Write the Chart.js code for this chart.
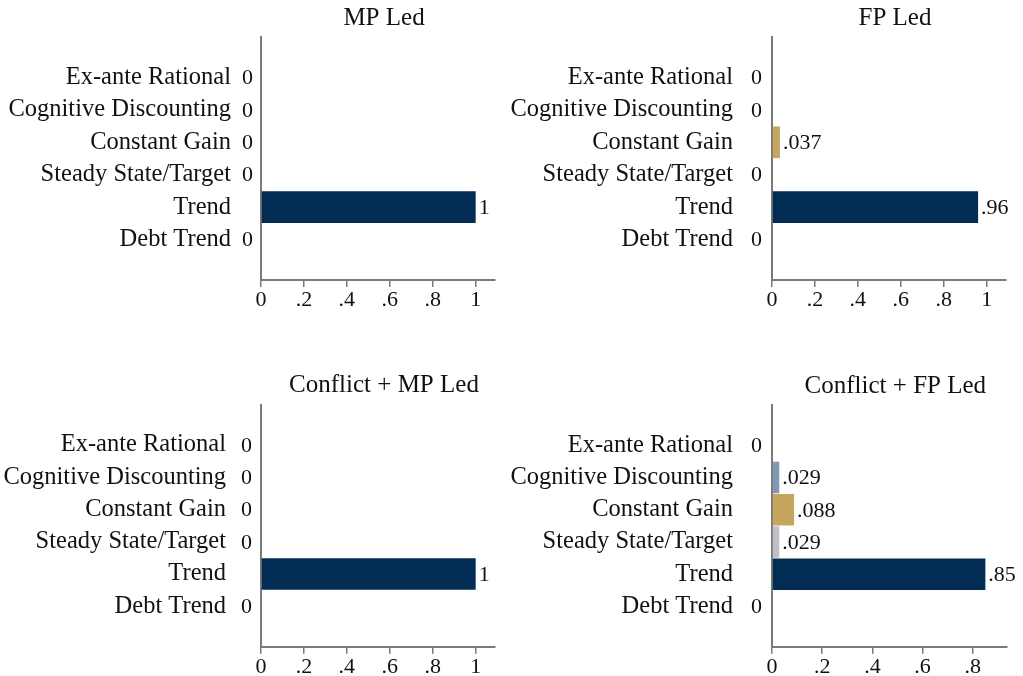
<!DOCTYPE html>
<html>
<head>
<meta charset="utf-8">
<title>Model selection shares</title>
<script src="https://cdn.jsdelivr.net/npm/chart.js@4/dist/chart.umd.min.js"></script>
<style>
  html, body { margin: 0; padding: 0; background: #fff; }
  #wrap { position: relative; width: 1023px; height: 676px; overflow: hidden; }
  .panel { position: absolute; }
  canvas { display: block; }
</style>
</head>
<body>
<div id="wrap">
  <div class="panel" style="left:0;top:0;"><canvas id="c0" width="511" height="338"></canvas></div>
  <div class="panel" style="left:511px;top:0;"><canvas id="c1" width="512" height="338"></canvas></div>
  <div class="panel" style="left:0;top:338px;"><canvas id="c2" width="511" height="338"></canvas></div>
  <div class="panel" style="left:511px;top:338px;"><canvas id="c3" width="512" height="338"></canvas></div>
</div>
<script>
// Expectation models (rows, top to bottom)
const categories = ['Ex-ante Rational', 'Cognitive Discounting', 'Constant Gain',
                    'Steady State/Target', 'Trend', 'Debt Trend'];

// Share of each model per regime
const mpLed         = [0, 0, 0,     0,     1,    0];
const fpLed         = [0, 0, 0.037, 0,     0.96, 0];
const conflictMpLed = [0, 0, 0,     0,     1,    0];
const conflictFpLed = [0, 0.029, 0.088, 0.029, 0.85, 0];

const panelTitles = ['MP Led', 'FP Led', 'Conflict + MP Led', 'Conflict + FP Led'];

// x-axis tick values
const ticksToOne    = [0, 0.2, 0.4, 0.6, 0.8, 1];
const ticksToPoint8 = [0, 0.2, 0.4, 0.6, 0.8];

// bar colours, one per model
const modelColors = ['#5b6f86', '#7f98b4', '#c5a65f', '#bfc0c5', '#022c54', '#8a7a55'];

const AXIS_GREY = '#7a7a7a';
const TEXT = '#111';
const SERIF = '"Liberation Serif", "Times New Roman", serif';

// drop the leading zero: 0.037 -> ".037"
function fmt(v) {
  if (v === 0) return '0';
  if (v === 1) return '1';
  return String(+v.toFixed(3)).replace(/^0\./, '.');
}

// panel title and the value beside each bar
const barNotes = {
  id: 'barNotes',
  afterDatasetsDraw(chart, args, opts) {
    const { ctx, chartArea } = chart;
    ctx.save();
    ctx.fillStyle = TEXT;
    ctx.textBaseline = 'middle';
    ctx.textAlign = 'center';
    ctx.font = '25px ' + SERIF;
    ctx.fillText(opts.title, (chartArea.left + chartArea.right) / 2 + 6, chartArea.top - 19);

    ctx.font = '22px ' + SERIF;
    const ds = chart.data.datasets[0];
    chart.getDatasetMeta(0).data.forEach((bar, i) => {
      const v = ds.data[i].x;
      if (v === 0) {
        ctx.textAlign = 'right';
        ctx.fillText(fmt(v), chartArea.left - opts.zeroGap, bar.y + 1);
      } else {
        ctx.textAlign = 'left';
        ctx.fillText(fmt(v), bar.x + 3, bar.y + 1);
      }
    });
    ctx.restore();
  }
};

function makePanel(canvasId, title, values, xTicks, cfg) {
  const el = document.getElementById(canvasId);
  const W = el.width, H = el.height;
  return new Chart(el, {
    type: 'bar',
    data: {
      datasets: [{
        data: values.map((v, i) => ({ x: v, y: i })),
        backgroundColor: modelColors,
        borderWidth: 0,
        barPercentage: 1,
        categoryPercentage: 0.98
      }]
    },
    plugins: [barNotes],
    options: {
      indexAxis: 'y',
      responsive: false,
      animation: false,
      events: [],
      layout: { padding: { top: cfg.top, right: W - cfg.right, left: 0, bottom: 0 } },
      plugins: {
        legend: { display: false },
        tooltip: { enabled: false },
        title: { display: false },
        barNotes: { title: title, zeroGap: cfg.zeroGap }
      },
      scales: {
        x: {
          type: 'linear',
          min: 0,
          max: cfg.xMax,
          afterBuildTicks: s => { s.ticks = xTicks.map(v => ({ value: v })); },
          afterFit: s => { s.height = H - cfg.bottom; s.paddingLeft = 0; s.paddingRight = 0; },
          border: { display: true, color: AXIS_GREY, width: 2 },
          grid: { display: true, drawOnChartArea: false, drawTicks: true,
                  tickLength: 7, color: AXIS_GREY, lineWidth: 1.5 },
          ticks: { color: TEXT, font: { family: SERIF, size: 22 }, padding: 0,
                   maxRotation: 0, autoSkip: false, callback: v => fmt(v) }
        },
        y: {
          type: 'linear',
          reverse: true,
          offset: false,
          min: -1.25,
          max: 6.25,
          afterBuildTicks: s => { s.ticks = categories.map((c, i) => ({ value: i })); },
          afterFit: s => { s.width = cfg.left; s.paddingTop = 0; s.paddingBottom = 0; },
          border: { display: true, color: AXIS_GREY, width: 2 },
          grid: { display: false, drawTicks: false, tickLength: 0 },
          ticks: { color: TEXT, font: { family: SERIF, size: 24.5 }, padding: cfg.labelPad,
                   autoSkip: false, callback: v => categories[v] }
        }
      }
    }
  });
}

makePanel('c0', panelTitles[0], mpLed, ticksToOne,
  { left: 261, top: 37, right: 495, bottom: 280, xMax: 1.09, labelPad: 30, zeroGap: 8 });
makePanel('c1', panelTitles[1], fpLed, ticksToOne,
  { left: 261, top: 37, right: 495, bottom: 280, xMax: 1.09, labelPad: 39, zeroGap: 10 });
makePanel('c2', panelTitles[2], conflictMpLed, ticksToOne,
  { left: 261, top: 66.5, right: 495, bottom: 308.7, xMax: 1.09, labelPad: 35, zeroGap: 9 });
makePanel('c3', panelTitles[3], conflictFpLed, ticksToPoint8,
  { left: 261, top: 67, right: 495.7, bottom: 308.7, xMax: 0.935, labelPad: 39, zeroGap: 10 });
</script>
</body>
</html>
